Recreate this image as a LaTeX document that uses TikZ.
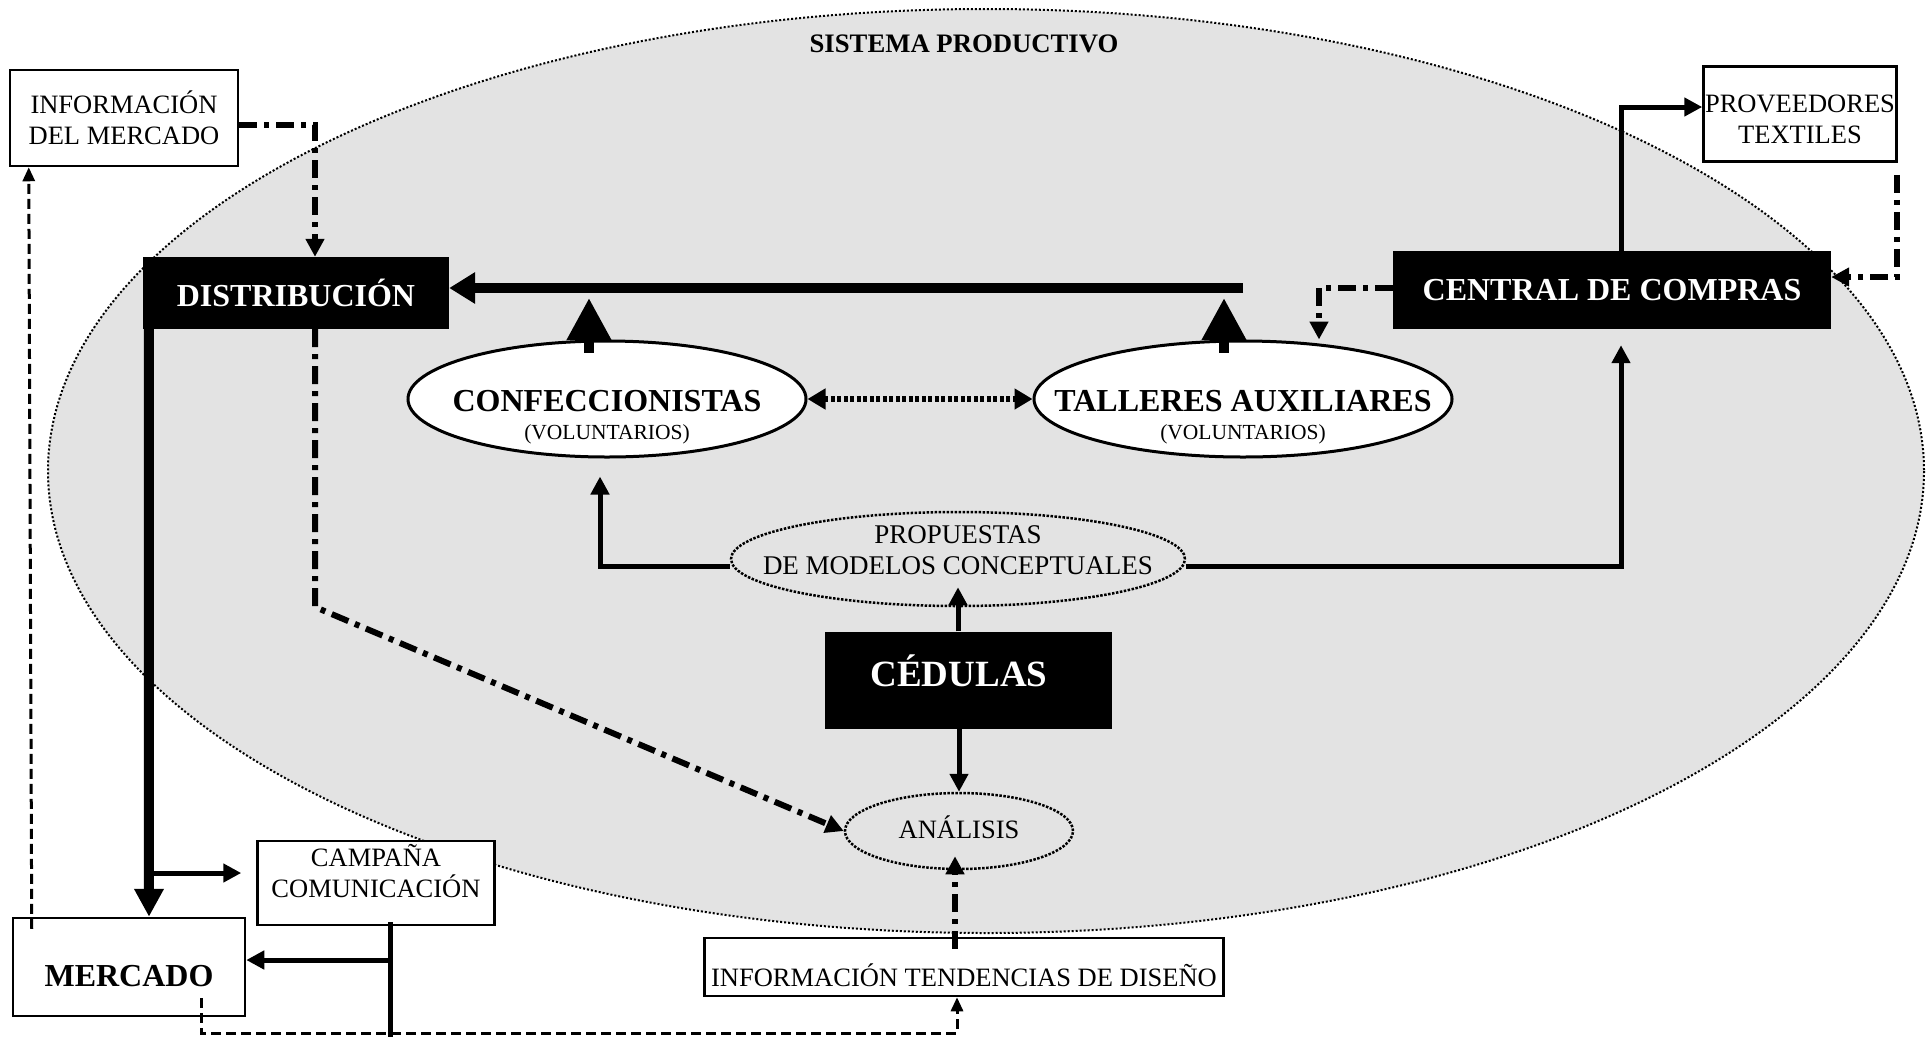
\documentclass[tikz,border=0pt]{standalone}
\usepackage{fontspec}
\setmainfont{Liberation Serif}
\usetikzlibrary{arrows.meta,shapes.geometric}
\definecolor{sysgray}{HTML}{E3E3E3}

\begin{document}
\begin{tikzpicture}[
    x=1pt, y=-1pt,
  blackbox/.style={rectangle, fill=black, text=white, inner sep=0pt, font=\bfseries\fontsize{32}{36}\selectfont},
  whitebox/.style={rectangle, draw, line width=2.5pt, fill=white, inner sep=0pt, align=center, font=\fontsize{26.5}{31}\selectfont},
  solidell/.style={ellipse, draw, line width=3pt, fill=white, inner sep=0pt},
  dotell/.style={ellipse, draw, line width=2.5pt, dash pattern=on 2.5pt off 1.5pt, inner sep=0pt},
  intext/.style={align=center, inner sep=0pt, font=\fontsize{26.5}{31}\selectfont},
  elltext/.style={align=center, inner sep=0pt, font=\fontsize{21.5}{28}\selectfont},
  mid/.style={line width=5pt, -{Triangle[length=18pt,width=18pt]}},
  bigup/.style={line width=10pt, -{Triangle[length=42pt,width=42pt]}},
  dashdot/.style={line width=6pt, dash pattern=on 18pt off 7pt on 5pt off 7pt, -{Triangle[length=18pt,width=18pt]}},
  thindash/.style={line width=3pt, dash pattern=on 10pt off 5pt, -{Triangle[length=14pt,width=12pt]}}
]
\useasboundingbox (0,0) rectangle (1930,1037);

% Sistema productivo
\draw[line width=2pt, dash pattern=on 2pt off 2pt, fill=sysgray] (986, 471) ellipse [x radius=938, y radius=462];
\node[font=\bfseries\fontsize{26.7}{30}\selectfont] (sistema) at (964, 44) {SISTEMA PRODUCTIVO};

% Boxes
\node[whitebox, minimum width=228pt, minimum height=96pt] (infomerc) at (124, 118) {INFORMACIÓN\\DEL MERCADO};
\node[blackbox, minimum width=306pt, minimum height=72pt] (distrib) at (296, 293) {DISTRIBUCIÓN};
\node[blackbox, minimum width=438pt, minimum height=78pt] (central) at (1612, 290) {CENTRAL DE COMPRAS};
\node[whitebox, minimum width=193pt, minimum height=95pt, label={[intext, yshift=-5pt]center:{PROVEEDORES\\TEXTILES}}] (proveed) at (1800, 114) {};
\node[blackbox, minimum width=287pt, minimum height=97pt, label={[intext, text=white, font=\bfseries\fontsize{37}{40}\selectfont, xshift=-9pt, yshift=9pt]center:CÉDULAS}] (cedulas) at (968, 680) {};
\node[whitebox, minimum width=519pt, minimum height=58pt, label={[intext, yshift=-8pt]center:INFORMACIÓN TENDENCIAS DE DISEÑO}] (infotend) at (964, 967) {};
\node[whitebox, minimum width=237pt, minimum height=84pt, label={[intext, yshift=12pt]center:{CAMPAÑA\\COMUNICACIÓN}}] (campana) at (376, 883) {};
\node[whitebox, minimum width=232pt, minimum height=98pt, label={[intext, font=\bfseries\fontsize{32}{36}\selectfont, yshift=-9pt]center:MERCADO}] (mercado) at (129, 967) {};

% Ellipses
\node[solidell, minimum width=398pt, minimum height=116pt, label={[elltext, yshift=-18pt]center:{{\bfseries\fontsize{32}{32}\selectfont CONFECCIONISTAS}\\(VOLUNTARIOS)}}] (confec) at (607, 399) {};
\node[solidell, minimum width=418pt, minimum height=116pt, label={[elltext, yshift=-18pt]center:{{\bfseries\fontsize{32}{32}\selectfont TALLERES AUXILIARES}\\(VOLUNTARIOS)}}] (talleres) at (1243, 399) {};
\node[dotell, minimum width=454pt, minimum height=94pt, label={[intext, font=\fontsize{27}{31}\selectfont, yshift=9pt]center:{PROPUESTAS\\DE MODELOS CONCEPTUALES}}] (propuestas) at (958, 559) {};
\node[dotell, minimum width=228pt, minimum height=76pt, label={[intext, font=\fontsize{26.5}{30}\selectfont, yshift=4pt]center:ANÁLISIS}] (analisis) at (959, 831) {};

% Free ends
\coordinate (prodline) at (1243, 288);
\coordinate (confup) at (589, 298);
\coordinate (tallup) at (1224, 298);
\coordinate (distbend) at (315, 607);
\coordinate (campsplit) at (149, 873);
\coordinate (campfoot) at (390, 1037);
\coordinate (mercsplit) at (390, 960);
\coordinate (mercfoot) at (957, 1033);

% Production to distribution
\draw[line width=10pt, -{Triangle[length=26pt,width=30pt]}] (prodline) -- (distrib.east |- prodline);
\draw[bigup] ([xshift=-18pt, yshift=-13pt]confec.north) -- (confup);
\draw[bigup] ([xshift=-19pt, yshift=-13pt]talleres.north) -- (tallup);
\draw[line width=6pt, dash pattern=on 4pt off 2.5pt, {Triangle[length=18pt,width=20pt]}-{Triangle[length=18pt,width=20pt]}] (confec.east) -- (talleres.west);

% Proposals
\draw[mid, shorten >=18pt] ([yshift=-7pt]propuestas.west) -| ([xshift=-7pt]confec.south);
\draw[mid, shorten >=16pt] ([yshift=-7pt]propuestas.east) -| ([xshift=9pt]central.south);
\draw[mid, shorten >=-20pt] (cedulas.north -| propuestas.south) -- (propuestas.south);
\draw[mid] (cedulas.south -| analisis.north) -- (analisis.north);

% Purchasing
\draw[mid] ([xshift=9pt]central.north) |- ([yshift=7pt]proveed.west);
\draw[dashdot] ([xshift=-1pt, yshift=-12pt]proveed.south east) |- ([yshift=13pt]central.east);
\draw[dashdot] ([yshift=2pt]central.west) -| ([xshift=76pt]talleres.north);

% Information flows
\draw[dashdot] ([yshift=-7pt]infomerc.east) -| ([xshift=19pt]distrib.north);
\draw[dashdot] ([xshift=19pt]distrib.south) -- (distbend) -- (analisis.west);
\draw[dashdot, shorten >=-14pt] ([xshift=-9pt, yshift=-12pt]infotend.north) -- ([xshift=-4pt]analisis.south);

% Market
\draw[line width=10pt, -{Triangle[length=28pt,width=28pt]}] ([xshift=6pt]distrib.south west) -- ([xshift=20pt]mercado.north);
\draw[mid, shorten >=15pt] (campsplit) -- ([yshift=10pt]campana.west);
\draw[line width=5pt] ([xshift=14pt, yshift=4pt]campana.south) -- (campfoot);
\draw[mid] (mercsplit) -- ([yshift=7pt]mercado.east);
\draw[thindash] ([xshift=72pt, yshift=19pt]mercado.south) |- (mercfoot) -- ([xshift=-7pt]infotend.south);
\draw[thindash] ([xshift=20pt, yshift=-12pt]mercado.north west) -- ([xshift=20pt]infomerc.south west);

\end{tikzpicture}
\end{document}
